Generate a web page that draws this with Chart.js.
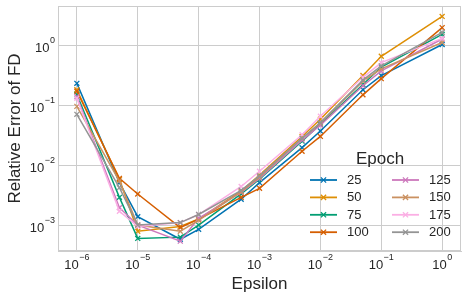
<!DOCTYPE html>
<html>
<head>
<meta charset="utf-8">
<script src="https://cdn.jsdelivr.net/npm/chart.js@4/dist/chart.umd.min.js"></script>
<style>
  html, body { margin: 0; padding: 0; background: #fff; }
</style>
</head>
<body>
<canvas id="fd-chart" width="467" height="300"></canvas>
<script>
const epsilon = [1e-6, 5e-6, 1e-5, 5e-5, 1e-4, 5e-4, 1e-3, 5e-3, 1e-2, 5e-2, 1e-1, 1];
const epochs = ["25", "50", "75", "100", "125", "150", "175", "200"];
const err25  = [0.23, 0.0051, 0.00138, 0.00058, 0.00085, 0.0027, 0.0051, 0.0195, 0.037, 0.18, 0.31, 1.02];
const err50  = [0.18, 0.0058, 0.00079, 0.00095, 0.00126, 0.0037, 0.0068, 0.030, 0.058, 0.31, 0.65, 3.0];
const err75  = [0.15, 0.0029, 0.0006, 0.00063, 0.001, 0.0033, 0.0058, 0.025, 0.048, 0.22, 0.43, 1.5];
const err100 = [0.17, 0.006, 0.0033, 0.00091, 0.00126, 0.0029, 0.0041, 0.017, 0.030, 0.148, 0.275, 1.95];
const err125 = [0.138, 0.00195, 0.001, 0.00054, 0.0013, 0.0035, 0.006, 0.026, 0.046, 0.21, 0.37, 1.26];
const err150 = [0.095, 0.0054, 0.001, 0.00079, 0.0012, 0.0036, 0.0063, 0.028, 0.05, 0.25, 0.40, 1.1];
const err175 = [0.13, 0.0017, 0.00095, 0.0011, 0.0015, 0.0044, 0.0079, 0.032, 0.065, 0.29, 0.51, 1.29];
const err200 = [0.07, 0.0042, 0.001, 0.0011, 0.0015, 0.0038, 0.0066, 0.028, 0.051, 0.26, 0.45, 1.62];
const xTickExps = [-6, -5, -4, -3, -2, -1, 0];
const yTickExps = [-3, -2, -1, 0];

const series = [err25, err50, err75, err100, err125, err150, err175, err200];
const colors = ['#0173b2', '#de8f05', '#029e73', '#d55e00', '#cc78bc', '#ca9161', '#fbafe4', '#949494'];
const FONT = "'Liberation Sans', Arial, sans-serif";
const TEXT = '#262626';
const GRID = '#cccccc';

const datasets = series.map((vals, i) => ({
    label: epochs[i],
    data: vals.map((v, j) => ({x: epsilon[j], y: v})),
    borderColor: colors[i],
    backgroundColor: colors[i],
    borderWidth: 1.5,
    pointStyle: 'crossRot',
    pointRadius: 3.5,
    pointBorderWidth: 1.3,
    order: series.length - i,
    tension: 0
}));

function supers(e) {
    return e < 0 ? '\u2212' + (-e) : '' + e;
}

// draws "10" with raised exponent
function drawPow(ctx, x, baseY, e, align) {
    ctx.font = '13px ' + FONT;
    const w1 = ctx.measureText('10').width;
    ctx.font = '9px ' + FONT;
    const w2 = ctx.measureText(supers(e)).width;
    const total = w1 + w2 + 0.5;
    let start = align === 'center' ? x - total / 2 : x - total;
    ctx.textAlign = 'left';
    ctx.textBaseline = 'alphabetic';
    ctx.fillStyle = TEXT;
    ctx.font = '13px ' + FONT;
    ctx.fillText('10', start, baseY);
    ctx.font = '9px ' + FONT;
    ctx.fillText(supers(e), start + w1 + 0.5, baseY - 9);
}

const decorations = {
    id: 'decorations',
    afterDraw(chart) {
        const ctx = chart.ctx;
        const a = chart.chartArea;
        ctx.save();
        // frame
        ctx.strokeStyle = GRID;
        ctx.lineWidth = 1;
        ctx.strokeRect(Math.round(a.left) + 0.5, Math.round(a.top) + 0.5,
            Math.round(a.right - a.left) - 1, Math.round(a.bottom - a.top) - 1);
        // tick labels
        const xs = chart.scales.x, ys = chart.scales.y;
        xTickExps.forEach(e => {
            drawPow(ctx, xs.getPixelForValue(Math.pow(10, e)), a.bottom + 18, e, 'center');
        });
        yTickExps.forEach(e => {
            drawPow(ctx, a.left - 3, ys.getPixelForValue(Math.pow(10, e)) + 7, e, 'right');
        });
        // legend
        ctx.fillStyle = TEXT;
        ctx.font = '17px ' + FONT;
        ctx.textAlign = 'center';
        ctx.textBaseline = 'alphabetic';
        ctx.fillText('Epoch', 380, 164);
        ctx.font = '13px ' + FONT;
        ctx.textBaseline = 'middle';
        ctx.textAlign = 'left';
        epochs.forEach((lab, i) => {
            const col = Math.floor(i / 4), row = i % 4;
            const x0 = col === 0 ? 310 : 392;
            const y = 180 + row * 17.4;
            ctx.strokeStyle = colors[i];
            ctx.lineWidth = 1.8;
            ctx.beginPath();
            ctx.moveTo(x0, y);
            ctx.lineTo(x0 + 27, y);
            ctx.stroke();
            const mx = x0 + 13.5, r = 2.6;
            ctx.lineWidth = 1.3;
            ctx.beginPath();
            ctx.moveTo(mx - r, y - r); ctx.lineTo(mx + r, y + r);
            ctx.moveTo(mx - r, y + r); ctx.lineTo(mx + r, y - r);
            ctx.stroke();
            ctx.fillStyle = TEXT;
            ctx.fillText(lab, x0 + 37, y + 0.5);
        });
        ctx.restore();
    }
};

const fdChart = new Chart(document.getElementById('fd-chart'), {
    type: 'line',
    data: {datasets: datasets},
    plugins: [decorations],
    options: {
        responsive: false,
        animation: false,
        devicePixelRatio: 1,
        layout: {padding: {top: 6, right: 6, left: 0, bottom: 0}},
        plugins: {legend: {display: false}, tooltip: {enabled: false}},
        scales: {
            x: {
                type: 'logarithmic',
                min: 4.9e-7,
                max: 2.04,
                afterBuildTicks: s => { s.ticks = xTickExps.map(e => ({value: Math.pow(10, e)})); },
                afterFit: s => { s.height = 49; },
                ticks: {display: false},
                grid: {color: GRID, lineWidth: 1, drawTicks: false},
                border: {color: GRID},
                title: {
                    display: true, text: 'Epsilon', color: TEXT,
                    font: {family: FONT, size: 17}, padding: {top: 0, bottom: 5}
                }
            },
            y: {
                type: 'logarithmic',
                min: 3.7e-4,
                max: 4.47,
                afterBuildTicks: s => { s.ticks = yTickExps.map(e => ({value: Math.pow(10, e)})); },
                afterFit: s => { s.width = 58; },
                ticks: {display: false},
                grid: {color: GRID, lineWidth: 1, drawTicks: false},
                border: {color: GRID},
                title: {
                    display: true, text: 'Relative Error of FD', color: TEXT,
                    font: {family: FONT, size: 17}, padding: {top: 5, bottom: 0}
                }
            }
        }
    }
});
</script>
</body>
</html>
